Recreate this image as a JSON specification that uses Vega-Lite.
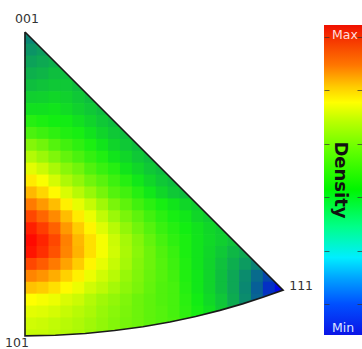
{
"$schema": "https://vega.github.io/schema/vega-lite/v6.json",
"padding": 0,
"autosize": {"type": "pad"},
"background": "white",
"bounds": "flush",
"spacing": 0,
"config": {"view": {"stroke": null}},
"datasets": {
"cells": [
{"u":1.5,"v":1.5,"d":0.28},{"u":4.5,"v":1.5,"d":0.30},
{"u":1.5,"v":4.5,"d":0.31},{"u":4.5,"v":4.5,"d":0.33},{"u":7.5,"v":4.5,"d":0.35},
{"u":1.5,"v":7.5,"d":0.34},{"u":4.5,"v":7.5,"d":0.355},{"u":7.5,"v":7.5,"d":0.37},{"u":10.5,"v":7.5,"d":0.39},
{"u":1.5,"v":10.5,"d":0.37},{"u":4.5,"v":10.5,"d":0.38},{"u":7.5,"v":10.5,"d":0.40},{"u":10.5,"v":10.5,"d":0.40},{"u":13.5,"v":10.5,"d":0.40},
{"u":1.5,"v":13.5,"d":0.40},{"u":4.5,"v":13.5,"d":0.41},{"u":7.5,"v":13.5,"d":0.42},{"u":10.5,"v":13.5,"d":0.42},{"u":13.5,"v":13.5,"d":0.40},{"u":16.5,"v":13.5,"d":0.40},
{"u":1.5,"v":16.5,"d":0.435},{"u":4.5,"v":16.5,"d":0.44},{"u":7.5,"v":16.5,"d":0.45},{"u":10.5,"v":16.5,"d":0.44},{"u":13.5,"v":16.5,"d":0.42},{"u":16.5,"v":16.5,"d":0.40},{"u":19.5,"v":16.5,"d":0.40},
{"u":1.5,"v":19.5,"d":0.47},{"u":4.5,"v":19.5,"d":0.47},{"u":7.5,"v":19.5,"d":0.48},{"u":10.5,"v":19.5,"d":0.46},{"u":13.5,"v":19.5,"d":0.44},{"u":16.5,"v":19.5,"d":0.42},{"u":19.5,"v":19.5,"d":0.40},{"u":22.5,"v":19.5,"d":0.40},
{"u":1.5,"v":22.5,"d":0.52},{"u":4.5,"v":22.5,"d":0.51},{"u":7.5,"v":22.5,"d":0.50},{"u":10.5,"v":22.5,"d":0.495},{"u":13.5,"v":22.5,"d":0.47},{"u":16.5,"v":22.5,"d":0.445},{"u":19.5,"v":22.5,"d":0.42},{"u":22.5,"v":22.5,"d":0.40},{"u":25.5,"v":22.5,"d":0.40},
{"u":1.5,"v":25.5,"d":0.56},{"u":4.5,"v":25.5,"d":0.545},{"u":7.5,"v":25.5,"d":0.53},{"u":10.5,"v":25.5,"d":0.515},{"u":13.5,"v":25.5,"d":0.505},{"u":16.5,"v":25.5,"d":0.475},{"u":19.5,"v":25.5,"d":0.445},{"u":22.5,"v":25.5,"d":0.42},{"u":25.5,"v":25.5,"d":0.40},{"u":28.5,"v":25.5,"d":0.40},
{"u":1.5,"v":28.5,"d":0.62},{"u":4.5,"v":28.5,"d":0.60},{"u":7.5,"v":28.5,"d":0.57},{"u":10.5,"v":28.5,"d":0.55},{"u":13.5,"v":28.5,"d":0.53},{"u":16.5,"v":28.5,"d":0.51},{"u":19.5,"v":28.5,"d":0.48},{"u":22.5,"v":28.5,"d":0.445},{"u":25.5,"v":28.5,"d":0.42},{"u":28.5,"v":28.5,"d":0.40},{"u":31.5,"v":28.5,"d":0.40},
{"u":1.5,"v":31.5,"d":0.67},{"u":4.5,"v":31.5,"d":0.645},{"u":7.5,"v":31.5,"d":0.615},{"u":10.5,"v":31.5,"d":0.585},{"u":13.5,"v":31.5,"d":0.56},{"u":16.5,"v":31.5,"d":0.535},{"u":19.5,"v":31.5,"d":0.515},{"u":22.5,"v":31.5,"d":0.48},{"u":25.5,"v":31.5,"d":0.45},{"u":28.5,"v":31.5,"d":0.42},{"u":31.5,"v":31.5,"d":0.40},{"u":34.5,"v":31.5,"d":0.40},
{"u":1.5,"v":34.5,"d":0.72},{"u":4.5,"v":34.5,"d":0.695},{"u":7.5,"v":34.5,"d":0.66},{"u":10.5,"v":34.5,"d":0.625},{"u":13.5,"v":34.5,"d":0.60},{"u":16.5,"v":34.5,"d":0.565},{"u":19.5,"v":34.5,"d":0.54},{"u":22.5,"v":34.5,"d":0.52},{"u":25.5,"v":34.5,"d":0.48},{"u":28.5,"v":34.5,"d":0.45},{"u":31.5,"v":34.5,"d":0.42},{"u":34.5,"v":34.5,"d":0.40},{"u":37.5,"v":34.5,"d":0.40},
{"u":1.5,"v":37.5,"d":0.77},{"u":4.5,"v":37.5,"d":0.745},{"u":7.5,"v":37.5,"d":0.705},{"u":10.5,"v":37.5,"d":0.665},{"u":13.5,"v":37.5,"d":0.635},{"u":16.5,"v":37.5,"d":0.60},{"u":19.5,"v":37.5,"d":0.575},{"u":22.5,"v":37.5,"d":0.545},{"u":25.5,"v":37.5,"d":0.52},{"u":28.5,"v":37.5,"d":0.485},{"u":31.5,"v":37.5,"d":0.45},{"u":34.5,"v":37.5,"d":0.42},{"u":37.5,"v":37.5,"d":0.40},{"u":40.5,"v":37.5,"d":0.40},
{"u":1.5,"v":40.5,"d":0.82},{"u":4.5,"v":40.5,"d":0.79},{"u":7.5,"v":40.5,"d":0.755},{"u":10.5,"v":40.5,"d":0.71},{"u":13.5,"v":40.5,"d":0.675},{"u":16.5,"v":40.5,"d":0.64},{"u":19.5,"v":40.5,"d":0.605},{"u":22.5,"v":40.5,"d":0.57},{"u":25.5,"v":40.5,"d":0.55},{"u":28.5,"v":40.5,"d":0.52},{"u":31.5,"v":40.5,"d":0.485},{"u":34.5,"v":40.5,"d":0.45},{"u":37.5,"v":40.5,"d":0.42},{"u":40.5,"v":40.5,"d":0.40},{"u":43.5,"v":40.5,"d":0.40},
{"u":1.5,"v":43.5,"d":0.88},{"u":4.5,"v":43.5,"d":0.85},{"u":7.5,"v":43.5,"d":0.815},{"u":10.5,"v":43.5,"d":0.765},{"u":13.5,"v":43.5,"d":0.725},{"u":16.5,"v":43.5,"d":0.69},{"u":19.5,"v":43.5,"d":0.65},{"u":22.5,"v":43.5,"d":0.61},{"u":25.5,"v":43.5,"d":0.58},{"u":28.5,"v":43.5,"d":0.55},{"u":31.5,"v":43.5,"d":0.525},{"u":34.5,"v":43.5,"d":0.505},{"u":37.5,"v":43.5,"d":0.48},{"u":40.5,"v":43.5,"d":0.45},{"u":43.5,"v":43.5,"d":0.43},{"u":46.5,"v":43.5,"d":0.43},
{"u":1.5,"v":46.5,"d":0.93},{"u":4.5,"v":46.5,"d":0.90},{"u":7.5,"v":46.5,"d":0.865},{"u":10.5,"v":46.5,"d":0.815},{"u":13.5,"v":46.5,"d":0.77},{"u":16.5,"v":46.5,"d":0.73},{"u":19.5,"v":46.5,"d":0.685},{"u":22.5,"v":46.5,"d":0.645},{"u":25.5,"v":46.5,"d":0.61},{"u":28.5,"v":46.5,"d":0.58},{"u":31.5,"v":46.5,"d":0.55},{"u":34.5,"v":46.5,"d":0.525},{"u":37.5,"v":46.5,"d":0.505},{"u":40.5,"v":46.5,"d":0.485},{"u":43.5,"v":46.5,"d":0.45},{"u":46.5,"v":46.5,"d":0.43},{"u":49.5,"v":46.5,"d":0.43},
{"u":1.5,"v":49.5,"d":0.97},{"u":4.5,"v":49.5,"d":0.94},{"u":7.5,"v":49.5,"d":0.905},{"u":10.5,"v":49.5,"d":0.85},{"u":13.5,"v":49.5,"d":0.80},{"u":16.5,"v":49.5,"d":0.76},{"u":19.5,"v":49.5,"d":0.715},{"u":22.5,"v":49.5,"d":0.675},{"u":25.5,"v":49.5,"d":0.635},{"u":28.5,"v":49.5,"d":0.60},{"u":31.5,"v":49.5,"d":0.57},{"u":34.5,"v":49.5,"d":0.54},{"u":37.5,"v":49.5,"d":0.52},{"u":40.5,"v":49.5,"d":0.50},{"u":43.5,"v":49.5,"d":0.475},{"u":46.5,"v":49.5,"d":0.45},{"u":49.5,"v":49.5,"d":0.43},{"u":52.5,"v":49.5,"d":0.43},
{"u":1.5,"v":52.5,"d":0.99},{"u":4.5,"v":52.5,"d":0.965},{"u":7.5,"v":52.5,"d":0.93},{"u":10.5,"v":52.5,"d":0.875},{"u":13.5,"v":52.5,"d":0.82},{"u":16.5,"v":52.5,"d":0.78},{"u":19.5,"v":52.5,"d":0.74},{"u":22.5,"v":52.5,"d":0.695},{"u":25.5,"v":52.5,"d":0.655},{"u":28.5,"v":52.5,"d":0.62},{"u":31.5,"v":52.5,"d":0.585},{"u":34.5,"v":52.5,"d":0.555},{"u":37.5,"v":52.5,"d":0.53},{"u":40.5,"v":52.5,"d":0.51},{"u":43.5,"v":52.5,"d":0.48},{"u":46.5,"v":52.5,"d":0.455},{"u":49.5,"v":52.5,"d":0.435},{"u":52.5,"v":52.5,"d":0.41},{"u":55.5,"v":52.5,"d":0.385},
{"u":1.5,"v":55.5,"d":0.98},{"u":4.5,"v":55.5,"d":0.955},{"u":7.5,"v":55.5,"d":0.92},{"u":10.5,"v":55.5,"d":0.87},{"u":13.5,"v":55.5,"d":0.825},{"u":16.5,"v":55.5,"d":0.78},{"u":19.5,"v":55.5,"d":0.74},{"u":22.5,"v":55.5,"d":0.70},{"u":25.5,"v":55.5,"d":0.66},{"u":28.5,"v":55.5,"d":0.625},{"u":31.5,"v":55.5,"d":0.595},{"u":34.5,"v":55.5,"d":0.565},{"u":37.5,"v":55.5,"d":0.54},{"u":40.5,"v":55.5,"d":0.51},{"u":43.5,"v":55.5,"d":0.48},{"u":46.5,"v":55.5,"d":0.45},{"u":49.5,"v":55.5,"d":0.42},{"u":52.5,"v":55.5,"d":0.385},{"u":55.5,"v":55.5,"d":0.355},{"u":58.5,"v":55.5,"d":0.32},
{"u":1.5,"v":58.5,"d":0.93},{"u":4.5,"v":58.5,"d":0.91},{"u":7.5,"v":58.5,"d":0.88},{"u":10.5,"v":58.5,"d":0.84},{"u":13.5,"v":58.5,"d":0.80},{"u":16.5,"v":58.5,"d":0.76},{"u":19.5,"v":58.5,"d":0.725},{"u":22.5,"v":58.5,"d":0.69},{"u":25.5,"v":58.5,"d":0.655},{"u":28.5,"v":58.5,"d":0.62},{"u":31.5,"v":58.5,"d":0.595},{"u":34.5,"v":58.5,"d":0.57},{"u":37.5,"v":58.5,"d":0.545},{"u":40.5,"v":58.5,"d":0.515},{"u":43.5,"v":58.5,"d":0.48},{"u":46.5,"v":58.5,"d":0.445},{"u":49.5,"v":58.5,"d":0.405},{"u":52.5,"v":58.5,"d":0.365},{"u":55.5,"v":58.5,"d":0.325},{"u":58.5,"v":58.5,"d":0.275},{"u":61.5,"v":58.5,"d":0.22},
{"u":1.5,"v":61.5,"d":0.87},{"u":4.5,"v":61.5,"d":0.855},{"u":7.5,"v":61.5,"d":0.83},{"u":10.5,"v":61.5,"d":0.795},{"u":13.5,"v":61.5,"d":0.765},{"u":16.5,"v":61.5,"d":0.73},{"u":19.5,"v":61.5,"d":0.70},{"u":22.5,"v":61.5,"d":0.675},{"u":25.5,"v":61.5,"d":0.64},{"u":28.5,"v":61.5,"d":0.615},{"u":31.5,"v":61.5,"d":0.59},{"u":34.5,"v":61.5,"d":0.57},{"u":37.5,"v":61.5,"d":0.55},{"u":40.5,"v":61.5,"d":0.515},{"u":43.5,"v":61.5,"d":0.485},{"u":46.5,"v":61.5,"d":0.445},{"u":49.5,"v":61.5,"d":0.40},{"u":52.5,"v":61.5,"d":0.35},{"u":55.5,"v":61.5,"d":0.295},{"u":58.5,"v":61.5,"d":0.225},{"u":61.5,"v":61.5,"d":0.15},{"u":64.5,"v":61.5,"d":0.095},
{"u":1.5,"v":64.5,"d":0.81},{"u":4.5,"v":64.5,"d":0.80},{"u":7.5,"v":64.5,"d":0.78},{"u":10.5,"v":64.5,"d":0.755},{"u":13.5,"v":64.5,"d":0.73},{"u":16.5,"v":64.5,"d":0.70},{"u":19.5,"v":64.5,"d":0.68},{"u":22.5,"v":64.5,"d":0.655},{"u":25.5,"v":64.5,"d":0.63},{"u":28.5,"v":64.5,"d":0.61},{"u":31.5,"v":64.5,"d":0.585},{"u":34.5,"v":64.5,"d":0.565},{"u":37.5,"v":64.5,"d":0.555},{"u":40.5,"v":64.5,"d":0.52},{"u":43.5,"v":64.5,"d":0.485},{"u":46.5,"v":64.5,"d":0.445},{"u":49.5,"v":64.5,"d":0.40},{"u":52.5,"v":64.5,"d":0.35},{"u":55.5,"v":64.5,"d":0.285},{"u":58.5,"v":64.5,"d":0.20},{"u":61.5,"v":64.5,"d":0.10},{"u":64.5,"v":64.5,"d":0.02},
{"u":1.5,"v":67.5,"d":0.75},{"u":4.5,"v":67.5,"d":0.74},{"u":7.5,"v":67.5,"d":0.73},{"u":10.5,"v":67.5,"d":0.71},{"u":13.5,"v":67.5,"d":0.695},{"u":16.5,"v":67.5,"d":0.67},{"u":19.5,"v":67.5,"d":0.65},{"u":22.5,"v":67.5,"d":0.635},{"u":25.5,"v":67.5,"d":0.615},{"u":28.5,"v":67.5,"d":0.595},{"u":31.5,"v":67.5,"d":0.58},{"u":34.5,"v":67.5,"d":0.565},{"u":37.5,"v":67.5,"d":0.555},{"u":40.5,"v":67.5,"d":0.525},{"u":43.5,"v":67.5,"d":0.495},{"u":46.5,"v":67.5,"d":0.455},{"u":49.5,"v":67.5,"d":0.415},{"u":52.5,"v":67.5,"d":0.36},{"u":55.5,"v":67.5,"d":0.295},{"u":58.5,"v":67.5,"d":0.21},{"u":61.5,"v":67.5,"d":0.12},
{"u":1.5,"v":70.5,"d":0.72},{"u":4.5,"v":70.5,"d":0.715},{"u":7.5,"v":70.5,"d":0.705},{"u":10.5,"v":70.5,"d":0.69},{"u":13.5,"v":70.5,"d":0.675},{"u":16.5,"v":70.5,"d":0.66},{"u":19.5,"v":70.5,"d":0.64},{"u":22.5,"v":70.5,"d":0.625},{"u":25.5,"v":70.5,"d":0.61},{"u":28.5,"v":70.5,"d":0.595},{"u":31.5,"v":70.5,"d":0.58},{"u":34.5,"v":70.5,"d":0.57},{"u":37.5,"v":70.5,"d":0.555},{"u":40.5,"v":70.5,"d":0.53},{"u":43.5,"v":70.5,"d":0.505},{"u":46.5,"v":70.5,"d":0.47},{"u":49.5,"v":70.5,"d":0.425},{"u":52.5,"v":70.5,"d":0.38},
{"u":1.5,"v":73.5,"d":0.70},{"u":4.5,"v":73.5,"d":0.695},{"u":7.5,"v":73.5,"d":0.685},{"u":10.5,"v":73.5,"d":0.675},{"u":13.5,"v":73.5,"d":0.665},{"u":16.5,"v":73.5,"d":0.65},{"u":19.5,"v":73.5,"d":0.635},{"u":22.5,"v":73.5,"d":0.62},{"u":25.5,"v":73.5,"d":0.605},{"u":28.5,"v":73.5,"d":0.595},{"u":31.5,"v":73.5,"d":0.58},{"u":34.5,"v":73.5,"d":0.57},{"u":37.5,"v":73.5,"d":0.56},{"u":40.5,"v":73.5,"d":0.54},
{"u":1.5,"v":76.5,"d":0.69},{"u":4.5,"v":76.5,"d":0.69},{"u":7.5,"v":76.5,"d":0.68},{"u":10.5,"v":76.5,"d":0.67},{"u":13.5,"v":76.5,"d":0.66},{"u":16.5,"v":76.5,"d":0.645},{"u":19.5,"v":76.5,"d":0.63},{"u":22.5,"v":76.5,"d":0.62},{"u":25.5,"v":76.5,"d":0.605}
],
"outline": [
{"u":0,"v":0,"k":0},{"u":0,"v":76.54,"k":1},{"u":7.64,"v":76.39,"k":2},{"u":15.19,"v":75.94,"k":3},{"u":22.56,"v":75.21,"k":4},{"u":29.69,"v":74.23,"k":5},{"u":36.51,"v":73.03,"k":6},{"u":42.99,"v":71.65,"k":7},{"u":49.08,"v":70.12,"k":8},{"u":54.78,"v":68.48,"k":9},{"u":60.09,"v":66.77,"k":10},{"u":65.01,"v":65.01,"k":11},{"u":0,"v":0,"k":12}
],
"lowerMask": [
{"u":-6,"v":76.54},{"u":0,"v":76.54},{"u":7.64,"v":76.39},{"u":15.19,"v":75.94},{"u":22.56,"v":75.21},{"u":29.69,"v":74.23},{"u":36.51,"v":73.03},{"u":42.99,"v":71.65},{"u":49.08,"v":70.12},{"u":54.78,"v":68.48},{"u":60.09,"v":66.77},{"u":65.01,"v":65.01},{"u":75,"v":65.01}
],
"upperMask": [{"u":-6,"v":-6},{"u":75,"v":75}]
},
"hconcat": [
{
"width": 324,
"height": 349,
"encoding": {
"x": {"field": "u", "type": "quantitative", "scale": {"domain": [-6.297, 75.31], "nice": false, "zero": false}, "axis": null},
"y": {"field": "v", "type": "quantitative", "scale": {"domain": [-8.06, 79.85], "nice": false, "zero": false, "reverse": true}, "axis": null}
},
"layer": [
{"data": {"name": "cells"},
"mark": {"type": "square", "size": 159, "opacity": 1, "filled": true, "strokeWidth": 0},
"encoding": {"color": {"field": "d", "type": "quantitative", "scale": {"domain": [0, 0.5, 0.75, 1], "range": ["#0000f0", "#12ee12", "#ffff00", "#ff0000"], "interpolate": "rgb"}, "legend": null}}},
{"data": {"name": "upperMask"},
"mark": {"type": "area", "color": "white", "opacity": 1},
"encoding": {"y2": {"datum": -8}}},
{"data": {"name": "lowerMask"},
"mark": {"type": "area", "color": "white", "opacity": 1},
"encoding": {"y2": {"datum": 79.8}}},
{"data": {"name": "outline"},
"mark": {"type": "line", "color": "#1a1a1a", "strokeWidth": 1.6},
"encoding": {"order": {"field": "k", "type": "quantitative"}}},
{"data": {"values": [{"label": "001", "u": 0, "v": 0}]},
"mark": {"type": "text", "font": "DejaVu Sans", "fontSize": 12.5, "color": "#333333", "align": "center", "baseline": "middle", "dx": 2, "dy": -13},
"encoding": {"text": {"field": "label"}}},
{"data": {"values": [{"label": "101", "u": 0, "v": 76.54}]},
"mark": {"type": "text", "font": "DejaVu Sans", "fontSize": 12.5, "color": "#333333", "align": "center", "baseline": "middle", "dx": -8, "dy": 7},
"encoding": {"text": {"field": "label"}}},
{"data": {"values": [{"label": "111", "u": 65.01, "v": 65.01}]},
"mark": {"type": "text", "font": "DejaVu Sans", "fontSize": 12.5, "color": "#333333", "align": "center", "baseline": "middle", "dx": 18, "dy": -4},
"encoding": {"text": {"field": "label"}}}
]
},
{
"width": 38,
"height": 349,
"data": {"values": [{}]},
"layer": [
{"mark": {"type": "rect", "fill": {"gradient": "linear", "x1": 0, "y1": 1, "x2": 0, "y2": 0, "stops": [
{"offset": 0, "color": "#0a14e6"}, {"offset": 0.1, "color": "#0050ff"}, {"offset": 0.18, "color": "#00a0ff"}, {"offset": 0.25, "color": "#00eeff"}, {"offset": 0.35, "color": "#00ff88"}, {"offset": 0.47, "color": "#00f500"}, {"offset": 0.6, "color": "#66ff00"}, {"offset": 0.69, "color": "#bbff00"}, {"offset": 0.75, "color": "#ffff00"}, {"offset": 0.8, "color": "#ffcc00"}, {"offset": 0.87, "color": "#ff7700"}, {"offset": 1, "color": "#f01000"}]}},
"encoding": {
"y": {"datum": 0, "type": "quantitative", "scale": {"domain": [-0.0452, 1.0807], "nice": false, "zero": false},
"axis": {"orient": "left", "values": [0.1, 0.272, 0.445, 0.616, 0.789, 0.961], "grid": true, "gridDash": [5, 28], "gridColor": "#333333", "gridOpacity": 0.7, "gridWidth": 1, "ticks": false, "labels": false, "domain": false, "title": null, "zindex": 1}},
"y2": {"datum": 1}}},
{"mark": {"type": "text", "text": "Max", "font": "DejaVu Sans", "fontSize": 12.5, "color": "#ffdede", "align": "center", "baseline": "middle", "dx": 2, "dy": 10},
"encoding": {"y": {"datum": 1, "type": "quantitative"}}},
{"mark": {"type": "text", "text": "Min", "font": "DejaVu Sans", "fontSize": 12.5, "color": "#dce6ff", "align": "center", "baseline": "middle", "dy": -7},
"encoding": {"y": {"datum": 0, "type": "quantitative"}}},
{"mark": {"type": "text", "text": "Density", "font": "DejaVu Sans", "fontSize": 18, "fontWeight": "bold", "color": "#111111", "align": "center", "baseline": "middle", "angle": 90, "dy": 3},
"encoding": {"y": {"datum": 0.5, "type": "quantitative"}}}
]
}
]
}
